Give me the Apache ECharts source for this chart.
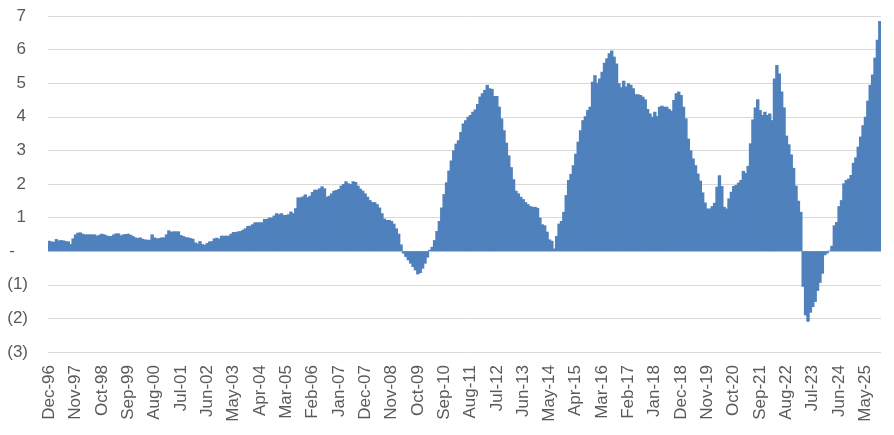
<!DOCTYPE html>
<html>
<head>
<meta charset="utf-8">
<script src="https://cdn.jsdelivr.net/npm/echarts@6/dist/echarts.min.js"></script>
<style>
html,body{margin:0;padding:0;background:#fff;}
#chart{width:894px;height:435px;}
</style>
</head>
<body>
<div id="chart"></div>
<script>
const monthNames = ['Jan','Feb','Mar','Apr','May','Jun','Jul','Aug','Sep','Oct','Nov','Dec'];
const startYear = 1996;
const startMonthIndex = 11; // Dec

const yTicks = [-3, -2, -1, 0, 1, 2, 3, 4, 5, 6, 7];

const values = [
  0.31,0.29,0.28,0.36,0.32,0.33,0.32,0.30,0.29,0.21,
  0.38,0.50,0.55,0.56,0.52,0.50,0.50,0.50,0.50,0.50,
  0.46,0.49,0.52,0.50,0.47,0.45,0.45,0.50,0.53,0.53,
  0.47,0.50,0.51,0.52,0.49,0.45,0.41,0.39,0.41,0.37,
  0.35,0.34,0.34,0.50,0.41,0.38,0.39,0.41,0.41,0.50,
  0.62,0.58,0.59,0.59,0.59,0.48,0.45,0.42,0.41,0.39,
  0.37,0.26,0.23,0.30,0.21,0.19,0.24,0.29,0.30,0.38,
  0.40,0.37,0.46,0.46,0.46,0.46,0.52,0.57,0.57,0.59,
  0.60,0.64,0.68,0.75,0.76,0.80,0.86,0.86,0.86,0.86,
  0.96,0.96,1.00,1.00,1.06,1.13,1.10,1.13,1.08,1.08,
  1.10,1.18,1.13,1.28,1.60,1.60,1.63,1.69,1.61,1.65,
  1.76,1.83,1.83,1.87,1.93,1.87,1.62,1.65,1.72,1.80,
  1.82,1.85,1.95,2.00,2.08,2.02,2.00,2.08,2.06,1.95,
  1.86,1.80,1.72,1.62,1.52,1.46,1.46,1.40,1.30,1.13,
  0.97,0.93,0.93,0.90,0.82,0.68,0.52,0.20,-0.07,-0.17,
  -0.27,-0.37,-0.47,-0.57,-0.69,-0.65,-0.52,-0.37,-0.19,0.04,
  0.13,0.33,0.60,0.90,1.30,1.70,2.05,2.40,2.70,3.00,
  3.20,3.30,3.55,3.80,3.90,4.00,4.05,4.15,4.22,4.38,
  4.60,4.70,4.80,4.95,4.85,4.83,4.62,4.62,4.30,3.95,
  3.60,3.23,2.85,2.50,2.14,1.80,1.72,1.62,1.55,1.46,
  1.40,1.34,1.32,1.32,1.29,1.00,0.80,0.77,0.58,0.35,
  0.31,0.08,0.45,0.82,0.90,1.17,1.67,2.12,2.30,2.56,
  2.90,3.26,3.60,3.90,4.02,4.20,4.30,5.04,5.24,5.01,
  5.14,5.34,5.61,5.74,5.89,5.97,5.79,5.59,5.00,4.88,
  5.07,4.90,5.00,4.95,4.85,4.67,4.67,4.65,4.60,4.52,
  4.23,4.10,4.00,4.15,4.02,4.30,4.33,4.30,4.30,4.23,
  4.18,4.50,4.70,4.75,4.65,4.30,3.95,3.35,3.00,2.76,
  2.56,2.31,2.10,1.75,1.45,1.27,1.27,1.34,1.44,1.92,
  2.26,1.94,1.32,1.27,1.57,1.77,1.94,1.97,2.04,2.12,
  2.39,2.33,2.54,3.21,3.92,4.28,4.52,4.20,4.05,4.15,
  4.05,4.10,3.90,5.14,5.54,5.29,4.75,4.28,3.44,3.18,
  2.88,2.48,1.95,1.50,1.17,-1.06,-1.91,-2.10,-1.83,-1.66,
  -1.51,-1.18,-0.94,-0.67,-0.12,-0.07,0.02,0.16,0.77,0.87,
  1.34,1.52,2.02,2.12,2.16,2.27,2.63,2.79,3.11,3.41,
  3.75,4.00,4.48,4.95,5.26,5.76,6.29,6.85
];

const categories = values.map(function (_, i) {
  const k = startMonthIndex + i;
  const m = k % 12;
  const y = (startYear + Math.floor(k / 12)) % 100;
  return monthNames[m] + '-' + String(y).padStart(2, '0');
});

const chart = echarts.init(document.getElementById('chart'), null, {renderer: 'canvas'});
const textColor = '#595959';
const fontFamily = 'Liberation Sans, Arial, sans-serif';
const barColor = '#4f81bd';

chart.setOption({
  animation: false,
  backgroundColor: '#ffffff',
  grid: {left: 48, right: 13, top: 16, bottom: 83, containLabel: false},
  xAxis: {
    type: 'category',
    data: categories,
    boundaryGap: true,
    axisLine: {show: false, onZero: false},
    axisTick: {show: false},
    splitLine: {show: false},
    axisLabel: {
      interval: 10,
      rotate: 90,
      margin: 13,
      color: textColor,
      fontSize: 17,
      fontFamily: fontFamily
    }
  },
  yAxis: {
    type: 'value',
    min: yTicks[0],
    max: yTicks[yTicks.length - 1],
    interval: 1,
    axisLine: {show: false},
    axisTick: {show: false},
    splitLine: {show: true, lineStyle: {color: '#d9d9d9', width: 1}},
    axisLabel: {
      margin: 20,
      color: textColor,
      fontSize: 17,
      fontFamily: fontFamily,
      formatter: function (v) {
        if (v > 0) return '{p|' + v + '}';
        if (v < 0) return '{n|(' + (-v) + ')}';
        return '{z|-}';
      },
      rich: {
        p: {color: textColor, fontSize: 17, fontFamily: fontFamily, padding: [0, 2, 0, 0]},
        n: {color: textColor, fontSize: 17, fontFamily: fontFamily},
        z: {color: textColor, fontSize: 17, fontFamily: fontFamily, padding: [0, 13, 0, 0]}
      }
    }
  },
  series: [{
    type: 'bar',
    data: values,
    barWidth: 3.4,
    barGap: '0%',
    itemStyle: {color: barColor},
    emphasis: {disabled: true}
  }]
});
</script>
</body>
</html>
